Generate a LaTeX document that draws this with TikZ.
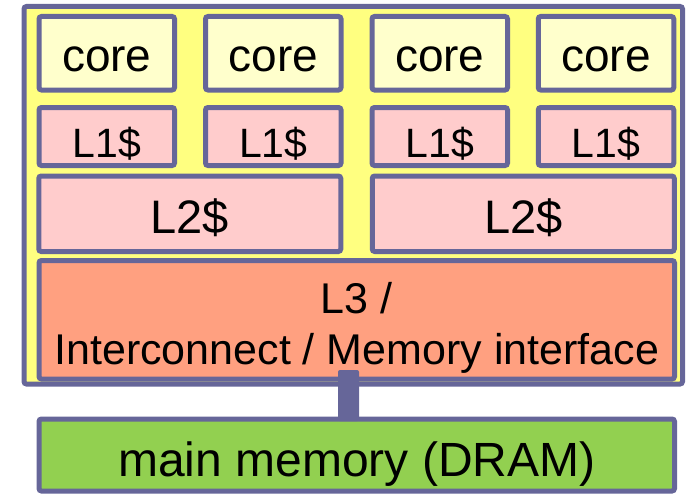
\documentclass[tikz,border=0pt]{standalone}
\usepackage{fontspec}
\setmainfont{Liberation Sans}
\usetikzlibrary{calc}
\definecolor{bord}{RGB}{102,102,153}
\definecolor{chipfill}{RGB}{255,255,128}
\definecolor{corefill}{RGB}{255,255,204}
\definecolor{cachefill}{RGB}{255,204,204}
\definecolor{lthreefill}{RGB}{255,160,128}
\definecolor{memfill}{RGB}{146,208,80}
\tikzset{
  blk/.style={draw=bord, line width=5pt, rounded corners=2.5pt, inner sep=0pt, outer sep=0pt, text=black, align=center},
  corebox/.style={blk, fill=corefill, minimum width=135.5pt, minimum height=73.5pt, font=\fontsize{46}{54}\selectfont, text height=37.5pt, text depth=0pt},
  lonebox/.style={blk, fill=cachefill, minimum width=135.5pt, minimum height=58pt, font=\fontsize{41}{49}\selectfont, text height=41pt, text depth=0pt},
  ltwobox/.style={blk, fill=cachefill, minimum width=302pt, minimum height=75.5pt, font=\fontsize{47}{56}\selectfont, text height=38.5pt, text depth=0pt},
}
\begin{document}
\begin{tikzpicture}[x=1pt,y=-1pt]
\useasboundingbox (0,0) rectangle (688,495);
\node[blk, fill=chipfill, minimum width=658.5pt, minimum height=377.5pt] (chip) at (353.25,195.25) {};
\node[corebox] (c1) at (106.75,53.25) {core};
\node[corebox] (c2) at (273.25,53.25) {core};
\node[corebox] (c3) at (439.75,53.25) {core};
\node[corebox] (c4) at (606,53.25) {core};
\node[lonebox] (a1) at (106.75,136.5) {L1\$};
\node[lonebox] (a2) at (273.25,136.5) {L1\$};
\node[lonebox] (a3) at (439.75,136.5) {L1\$};
\node[lonebox] (a4) at (606,136.5) {L1\$};
\node[ltwobox] (b1) at (189.75,213.75) {L2\$};
\node[ltwobox] (b2) at (523.25,213.75) {L2\$};
\node[blk, fill=lthreefill, minimum width=635.5pt, minimum height=118.5pt, font=\fontsize{43}{51}\selectfont] (l3) at (356.75,319.75) {\rule{0pt}{50.5pt}L3 /\\\rule[-13pt]{0pt}{13pt}Interconnect / Memory interface};
\node[blk, fill=memfill, minimum width=635.5pt, minimum height=72pt, font=\fontsize{48}{56}\selectfont, text height=42pt, text depth=0pt] (mem) at (356.75,455) {main memory (DRAM)};
\coordinate (cx) at (348.5,0);
\fill[bord, rounded corners=2pt] ($(cx |- l3.south)+(-10.5,-9)$) rectangle ($(cx |- mem.north)+(10.5,2)$);
\end{tikzpicture}
\end{document}
